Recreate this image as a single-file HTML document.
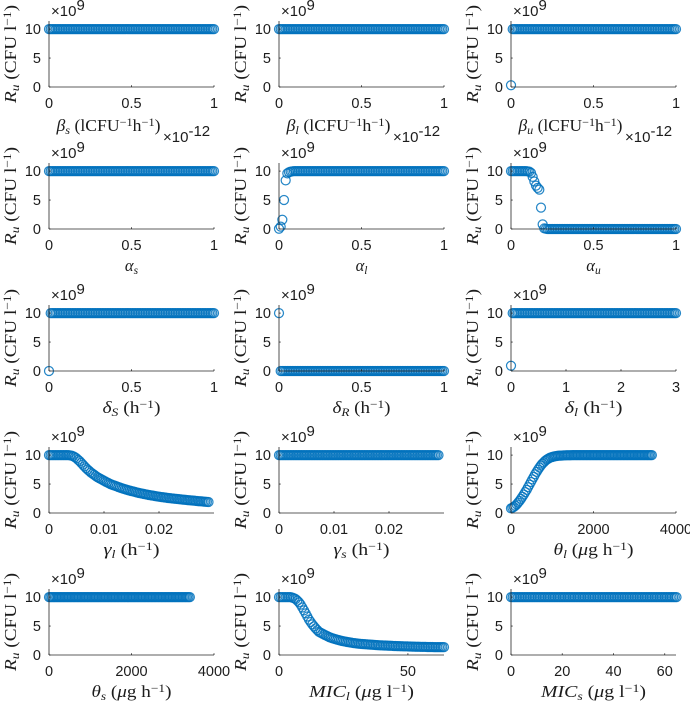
<!DOCTYPE html>
<html>
<head>
<meta charset="utf-8">
<style>
html,body{margin:0;padding:0;background:#fff;width:690px;height:701px;overflow:hidden}
svg{display:block;filter:blur(0.3px)}
.tick{font:14.5px "Liberation Sans",sans-serif;fill:#1c1c1c}
.lab{font:16.5px "Liberation Serif",serif;fill:#1c1c1c}
.mult{font:15px "Liberation Sans",sans-serif;fill:#1c1c1c}
</style>
</head>
<body>
<svg id="chart" width="690" height="701" viewBox="0 0 690 701" xmlns="http://www.w3.org/2000/svg"></svg>
<script>
const sampleFractions=[0,.0101,.0202,.0303,.0404,.0505,.0606,.0707,.0808,.0909,.101,.1111,.1212,.1313,.1414,.1515,.1616,.1717,.1818,.1919,.202,.2121,.2222,.2323,.2424,.2525,.2626,.2727,.2828,.2929,.303,.3131,.3232,.3333,.3434,.3535,.3636,.3737,.3838,.3939,.404,.4141,.4242,.4343,.4444,.4545,.4646,.4747,.4848,.4949,.5051,.5152,.5253,.5354,.5455,.5556,.5657,.5758,.5859,.596,.6061,.6162,.6263,.6364,.6465,.6566,.6667,.6768,.6869,.697,.7071,.7172,.7273,.7374,.7475,.7576,.7677,.7778,.7879,.798,.8081,.8182,.8283,.8384,.8485,.8586,.8687,.8788,.8889,.899,.9091,.9192,.9293,.9394,.9495,.9596,.9697,.9798,.9899,1];
const xEnds=[1,1,1,1,1,1,1,1,3,0.029,0.029,3415,3415,64,64.6];
const xLimits=[1,1,1,1,1,1,1,1,3,0.03,0.03,4000,4000,64,64.4];
const xTickValues=[[0,.5,1],[0,.5,1],[0,.5,1],[0,.5,1],[0,.5,1],[0,.5,1],[0,.5,1],[0,.5,1],[0,1,2,3],[0,.01,.02],[0,.01,.02],[0,2000,4000],[0,2000,4000],[0,50],[0,20,40,60]];
const xTickLabels=[["0","0.5","1"],["0","0.5","1"],["0","0.5","1"],["0","0.5","1"],["0","0.5","1"],["0","0.5","1"],["0","0.5","1"],["0","0.5","1"],["0","1","2","3"],["0","0.01","0.02"],["0","0.01","0.02"],["0","2000","4000"],["0","2000","4000"],["0","50"],["0","20","40","60"]];
const yTickValues=[0,5,10];
const yTickLabels=["0","5","10"];
const yLimit=11.4;

const betaS=[10,10,10,10,10,10,10,10,10,10,10,10,10,10,10,10,10,10,10,10,10,10,10,10,10,10,10,10,10,10,10,10,10,10,10,10,10,10,10,10,10,10,10,10,10,10,10,10,10,10,10,10,10,10,10,10,10,10,10,10,10,10,10,10,10,10,10,10,10,10,10,10,10,10,10,10,10,10,10,10,10,10,10,10,10,10,10,10,10,10,10,10,10,10,10,10,10,10,10,10];
const betaL=[10,10,10,10,10,10,10,10,10,10,10,10,10,10,10,10,10,10,10,10,10,10,10,10,10,10,10,10,10,10,10,10,10,10,10,10,10,10,10,10,10,10,10,10,10,10,10,10,10,10,10,10,10,10,10,10,10,10,10,10,10,10,10,10,10,10,10,10,10,10,10,10,10,10,10,10,10,10,10,10,10,10,10,10,10,10,10,10,10,10,10,10,10,10,10,10,10,10,10,10];
const betaU=[0.3,10,10,10,10,10,10,10,10,10,10,10,10,10,10,10,10,10,10,10,10,10,10,10,10,10,10,10,10,10,10,10,10,10,10,10,10,10,10,10,10,10,10,10,10,10,10,10,10,10,10,10,10,10,10,10,10,10,10,10,10,10,10,10,10,10,10,10,10,10,10,10,10,10,10,10,10,10,10,10,10,10,10,10,10,10,10,10,10,10,10,10,10,10,10,10,10,10,10,10];
const alphaS=[10,10,10,10,10,10,10,10,10,10,10,10,10,10,10,10,10,10,10,10,10,10,10,10,10,10,10,10,10,10,10,10,10,10,10,10,10,10,10,10,10,10,10,10,10,10,10,10,10,10,10,10,10,10,10,10,10,10,10,10,10,10,10,10,10,10,10,10,10,10,10,10,10,10,10,10,10,10,10,10,10,10,10,10,10,10,10,10,10,10,10,10,10,10,10,10,10,10,10,10];
const alphaL=[0.05,0.4,1.6,5,8.4,9.6,9.8,9.9,9.95,10,10,10,10,10,10,10,10,10,10,10,10,10,10,10,10,10,10,10,10,10,10,10,10,10,10,10,10,10,10,10,10,10,10,10,10,10,10,10,10,10,10,10,10,10,10,10,10,10,10,10,10,10,10,10,10,10,10,10,10,10,10,10,10,10,10,10,10,10,10,10,10,10,10,10,10,10,10,10,10,10,10,10,10,10,10,10,10,10,10,10];
const alphaU=[10,10,10,10,10,10,10,10,10,10,9.95,9.9,9.7,9,8.2,7.5,7.1,6.8,3.7,0.8,0.1,0.05,0,0,0,0,0,0,0,0,0,0,0,0,0,0,0,0,0,0,0,0,0,0,0,0,0,0,0,0,0,0,0,0,0,0,0,0,0,0,0,0,0,0,0,0,0,0,0,0,0,0,0,0,0,0,0,0,0,0,0,0,0,0,0,0,0,0,0,0,0,0,0,0,0,0,0,0,0,0];
const deltaS=[0,10,10,10,10,10,10,10,10,10,10,10,10,10,10,10,10,10,10,10,10,10,10,10,10,10,10,10,10,10,10,10,10,10,10,10,10,10,10,10,10,10,10,10,10,10,10,10,10,10,10,10,10,10,10,10,10,10,10,10,10,10,10,10,10,10,10,10,10,10,10,10,10,10,10,10,10,10,10,10,10,10,10,10,10,10,10,10,10,10,10,10,10,10,10,10,10,10,10,10];
const deltaR=[10,0,0,0,0,0,0,0,0,0,0,0,0,0,0,0,0,0,0,0,0,0,0,0,0,0,0,0,0,0,0,0,0,0,0,0,0,0,0,0,0,0,0,0,0,0,0,0,0,0,0,0,0,0,0,0,0,0,0,0,0,0,0,0,0,0,0,0,0,0,0,0,0,0,0,0,0,0,0,0,0,0,0,0,0,0,0,0,0,0,0,0,0,0,0,0,0,0,0,0];
const deltaL=[0.9,10,10,10,10,10,10,10,10,10,10,10,10,10,10,10,10,10,10,10,10,10,10,10,10,10,10,10,10,10,10,10,10,10,10,10,10,10,10,10,10,10,10,10,10,10,10,10,10,10,10,10,10,10,10,10,10,10,10,10,10,10,10,10,10,10,10,10,10,10,10,10,10,10,10,10,10,10,10,10,10,10,10,10,10,10,10,10,10,10,10,10,10,10,10,10,10,10,10,10];
const gammaL=[10,10,10,10,10,10,10,10,10,10,10,10,10,9.95,9.9,9.8,9.65,9.45,9.2,8.95,8.65,8.35,8.05,7.75,7.5,7.25,7,6.8,6.6,6.4,6.2,6.05,5.9,5.75,5.6,5.45,5.3,5.15,5,4.9,4.8,4.7,4.6,4.5,4.4,4.3,4.2,4.12,4.04,3.96,3.88,3.8,3.73,3.66,3.59,3.52,3.46,3.4,3.34,3.28,3.22,3.17,3.12,3.07,3.02,2.97,2.92,2.87,2.83,2.79,2.75,2.71,2.67,2.63,2.59,2.56,2.53,2.5,2.47,2.44,2.41,2.38,2.35,2.32,2.29,2.26,2.23,2.2,2.18,2.16,2.13,2.1,2.07,2.04,2.02,2,1.97,1.94,1.92,1.9];
const gammaS=[10,10,10,10,10,10,10,10,10,10,10,10,10,10,10,10,10,10,10,10,10,10,10,10,10,10,10,10,10,10,10,10,10,10,10,10,10,10,10,10,10,10,10,10,10,10,10,10,10,10,10,10,10,10,10,10,10,10,10,10,10,10,10,10,10,10,10,10,10,10,10,10,10,10,10,10,10,10,10,10,10,10,10,10,10,10,10,10,10,10,10,10,10,10,10,10,10,10,10,10];
const thetaL=[0.8,0.9,1.05,1.25,1.5,1.8,2.1,2.45,2.8,3.2,3.6,4,4.45,4.9,5.35,5.8,6.25,6.7,7.1,7.5,7.85,8.2,8.5,8.75,9,9.2,9.35,9.5,9.6,9.68,9.75,9.8,9.85,9.88,9.9,9.92,9.94,9.95,9.96,9.97,9.98,9.98,9.98,9.99,9.99,9.99,9.99,10,10,10,10,10,10,10,10,10,10,10,10,10,10,10,10,10,10,10,10,10,10,10,10,10,10,10,10,10,10,10,10,10,10,10,10,10,10,10,10,10,10,10,10,10,10,10,10,10,10,10,10,10];
const thetaS=[10,10,10,10,10,10,10,10,10,10,10,10,10,10,10,10,10,10,10,10,10,10,10,10,10,10,10,10,10,10,10,10,10,10,10,10,10,10,10,10,10,10,10,10,10,10,10,10,10,10,10,10,10,10,10,10,10,10,10,10,10,10,10,10,10,10,10,10,10,10,10,10,10,10,10,10,10,10,10,10,10,10,10,10,10,10,10,10,10,10,10,10,10,10,10,10,10,10,10,10];
const micL=[10,10,10,10,10,10,10,10,9.9,9.8,9.65,9.4,9.1,8.7,8.2,7.7,7.2,6.65,6.1,5.7,5.3,4.95,4.6,4.3,4,3.85,3.7,3.55,3.4,3.25,3.1,3,2.9,2.8,2.72,2.64,2.56,2.48,2.42,2.36,2.3,2.25,2.2,2.15,2.1,2.06,2.02,1.98,1.95,1.92,1.9,1.87,1.85,1.83,1.81,1.79,1.77,1.75,1.73,1.71,1.69,1.67,1.66,1.64,1.63,1.61,1.6,1.59,1.57,1.56,1.55,1.54,1.53,1.52,1.51,1.5,1.49,1.48,1.47,1.46,1.45,1.44,1.43,1.43,1.42,1.41,1.41,1.4,1.4,1.39,1.39,1.38,1.38,1.37,1.37,1.36,1.36,1.36,1.35,1.35];
const micS=[10,10,10,10,10,10,10,10,10,10,10,10,10,10,10,10,10,10,10,10,10,10,10,10,10,10,10,10,10,10,10,10,10,10,10,10,10,10,10,10,10,10,10,10,10,10,10,10,10,10,10,10,10,10,10,10,10,10,10,10,10,10,10,10,10,10,10,10,10,10,10,10,10,10,10,10,10,10,10,10,10,10,10,10,10,10,10,10,10,10,10,10,10,10,10,10,10,10,10,10];

const allSeries=[betaS,betaL,betaU,alphaS,alphaL,alphaU,deltaS,deltaR,deltaL,gammaL,gammaS,thetaL,thetaS,micL,micS];

const unitBeta=' (lCFU<tspan dy="-5" font-size="11.5">−1</tspan><tspan dy="5">h</tspan><tspan dy="-5" font-size="11.5">−1</tspan><tspan dy="5">)</tspan>';
const unitH=' (h<tspan dy="-5" font-size="11.5">−1</tspan><tspan dy="5">)</tspan>';
const unitMuH=' (<tspan font-style="italic">μ</tspan>g h<tspan dy="-5" font-size="11.5">−1</tspan><tspan dy="5">)</tspan>';
const unitMuL=' (<tspan font-style="italic">μ</tspan>g l<tspan dy="-5" font-size="11.5">−1</tspan><tspan dy="5">)</tspan>';
function sym(a,b){return '<tspan font-style="italic">'+a+'</tspan><tspan font-style="italic" dy="3" font-size="11.5">'+b+'</tspan><tspan dy="-3"> </tspan>';}
const xLabels=[
 sym('β','s')+unitBeta,sym('β','l')+unitBeta,sym('β','u')+unitBeta,
 sym('α','s'),sym('α','l'),sym('α','u'),
 sym('δ','S')+unitH,sym('δ','R')+unitH,sym('δ','l')+unitH,
 sym('γ','l')+unitH,sym('γ','s')+unitH,sym('θ','l')+unitMuH,
 sym('θ','s')+unitMuH,sym('MIC','l')+unitMuL,sym('MIC','s')+unitMuL];
const xLabelWidths=[104,104,104,0,0,0,58,58,58,56,56,80,80,105,105];
const panelNames=['beta-s','beta-l','beta-u','alpha-s','alpha-l','alpha-u','delta-s','delta-r','delta-l','gamma-l','gamma-s','theta-l','theta-s','mic-l','mic-s'];

const colLeft=[49,279,511];
const rowBottom=[87,229,371,513,655];
const plotW=165, plotH=66;
const blue='#0072BD', ink='#262626';
const NS='http://www.w3.org/2000/svg';
const root=document.getElementById('chart');
function mk(parent,tag,attrs){const e=document.createElementNS(NS,tag);for(const k in attrs)e.setAttribute(k,attrs[k]);parent.appendChild(e);return e;}

allSeries.forEach(function(series,p){
  const L=colLeft[p%3], B=rowBottom[Math.floor(p/3)], name=panelNames[p];
  const sx=function(v){return L+v/xLimits[p]*plotW;};
  const sy=function(v){return B-v/yLimit*plotH;};
  const g=mk(root,'g',{});
  
  

  const pts=mk(g,'g',{fill:'none',stroke:blue,'stroke-width':'1.25','stroke-opacity':'0.85'});
  
  
  series.forEach(function(v,i){
    const c=mk(pts,'circle',{cx:sx(sampleFractions[i]*xEnds[p]).toFixed(2),cy:sy(v).toFixed(2),r:'4.5'});
    
    
  });

  const xAxis=mk(g,'line',{x1:L,x2:L+plotW,y1:B,y2:B,stroke:ink,'stroke-width':'0.8'});
  
  
  const yAxis=mk(g,'line',{x1:L,x2:L,y1:B-plotH,y2:B,stroke:ink,'stroke-width':'0.8'});
  
  

  xTickValues[p].forEach(function(v,i){
    const x=sx(v);
    const t=mk(g,'line',{x1:x,x2:x,y1:B,y2:B-1.7,stroke:ink,'stroke-width':'0.8'});
    
    
    const lbl=mk(g,'text',{x:x,y:B+21,'text-anchor':'middle','class':'tick'});
    lbl.textContent=xTickLabels[p][i];
    
    
  });
  yTickValues.forEach(function(v,i){
    const y=sy(v);
    const t=mk(g,'line',{x1:L,x2:L+1.7,y1:y,y2:y,stroke:ink,'stroke-width':'0.8'});
    
    
    const lbl=mk(g,'text',{x:L-8,y:y+5,'text-anchor':'end','class':'tick'});
    lbl.textContent=yTickLabels[i];
    
    
  });

  const mult=mk(g,'text',{x:L+2,y:B-plotH-5,'class':'mult'});
  mult.innerHTML='×10<tspan dy="-6">9</tspan>';
  
  

  if(p<3){
    const me=mk(g,'text',{x:L+plotW-51,y:B+55,'class':'mult'});
    me.innerHTML='×10<tspan dy="-6">-12</tspan>';
    
    
  }

  const shift=p<3?-23:0;
  const xl=mk(g,'text',{x:L+plotW/2+shift,y:B+(p<3?44:42),'text-anchor':'middle','class':'lab'});
  xl.innerHTML=xLabels[p];
  if(xLabelWidths[p]){
    xl.setAttribute('textLength',xLabelWidths[p]);
    xl.setAttribute('lengthAdjust','spacingAndGlyphs');
  }
  
  

  const yc=B-plotH/2;
  const yl=mk(g,'text',{transform:'translate('+(L-33)+','+yc+') rotate(-90)','text-anchor':'middle','class':'lab'});
  yl.innerHTML='<tspan font-style="italic">R</tspan><tspan font-style="italic" dy="3" font-size="11.5">u</tspan><tspan dy="-3"> (CFU l</tspan><tspan dy="-5" font-size="11.5">−1</tspan><tspan dy="5">)</tspan>';
  yl.setAttribute('textLength','98');
  yl.setAttribute('lengthAdjust','spacingAndGlyphs');
  
  
});
</script>
</body>
</html>
